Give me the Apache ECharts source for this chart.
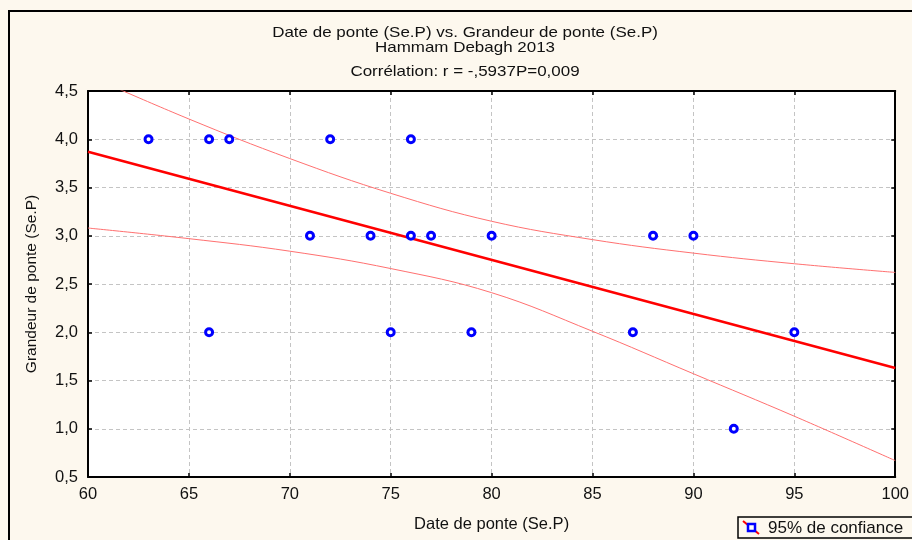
<!DOCTYPE html>
<html>
<head>
<meta charset="utf-8">
<script src="https://cdn.jsdelivr.net/npm/echarts@6/dist/echarts.min.js"></script>
<style>
  html, body { margin: 0; padding: 0; background: #fdf8ee; }
  #chart { width: 912px; height: 540px; }
</style>
</head>
<body>
<div id="chart"></div>
<script>
// Observations: laying date (x) and clutch size (y)
const dateDePonte = [63, 66, 67, 72, 76, 71, 74, 76, 77, 80, 88, 90, 66, 75, 79, 87, 95, 92];
const grandeurDePonte = [4, 4, 4, 4, 4, 3, 3, 3, 3, 3, 3, 3, 2, 2, 2, 2, 2, 1];

// Fitted regression line (end points)
const fitX = [60, 100];
const fitY = [3.87, 1.63];

// 95% confidence band
const bandX = [60, 65, 70, 75, 80, 85, 90, 95, 100];
const bandUpper = [4.66, 4.21, 3.80, 3.44, 3.15, 2.96, 2.82, 2.71, 2.62];
const bandLower = [3.08, 2.97, 2.84, 2.66, 2.41, 2.01, 1.57, 1.13, 0.67];

// Axis settings
const xTicks = { min: 60, max: 100, step: 5 };
const yTicks = { min: 0.5, max: 4.5, step: 0.5 };

const titleLines = [
  'Date de ponte (Se.P) vs. Grandeur de ponte (Se.P)',
  'Hammam Debagh 2013',
  'Corrélation: r = -,5937P=0,009'
];

const FONT = 'Liberation Sans, Arial, sans-serif';
const cream = '#fdf8ee';

const zip = (a, b) => a.map((v, i) => [v, b[i]]);
const commaFmt = v => v.toFixed(1).replace('.', ',');

const chart = echarts.init(document.getElementById('chart'), null, { renderer: 'canvas' });

const gridLine = { show: true, lineStyle: { color: '#c4c4c4', type: [4, 3], width: 1 } };
const tickIn = { show: true, inside: true, length: 4, lineStyle: { color: '#000', width: 1.5 } };
const axisLn = { show: true, lineStyle: { color: '#000', width: 2 } };

// Title text: slightly wide lettering
const titleText = (txt, y) => ({
  type: 'text', x: 465, y: y, scaleX: 1.17,
  style: { text: txt, fill: '#111', font: '14.5px ' + FONT, align: 'center', verticalAlign: 'middle' }
});

chart.setOption({
  animation: false,
  backgroundColor: cream,
  textStyle: { fontFamily: FONT },
  grid: {
    left: 88, right: 15, top: 91, bottom: 63,
    show: true, backgroundColor: '#ffffff', borderWidth: 0
  },
  xAxis: [{
    type: 'value', min: xTicks.min, max: xTicks.max, interval: xTicks.step,
    position: 'bottom',
    name: 'Date de ponte (Se.P)', nameLocation: 'middle', nameGap: 39,
    nameTextStyle: { color: '#111', fontSize: 16.5, fontFamily: FONT },
    axisLine: axisLn, axisTick: tickIn, splitLine: gridLine,
    axisLabel: { color: '#111', fontSize: 16.5, margin: 9, fontFamily: FONT }
  }, {
    type: 'value', min: xTicks.min, max: xTicks.max, interval: xTicks.step,
    position: 'top',
    axisLine: axisLn, axisTick: tickIn, splitLine: { show: false },
    axisLabel: { show: false }
  }],
  yAxis: [{
    type: 'value', min: yTicks.min, max: yTicks.max, interval: yTicks.step,
    position: 'left',
    name: 'Grandeur de ponte (Se.P)', nameLocation: 'middle', nameGap: 48,
    nameTextStyle: { color: '#111', fontSize: 15.5, fontFamily: FONT },
    axisLine: axisLn, axisTick: tickIn, splitLine: gridLine,
    axisLabel: { color: '#111', fontSize: 16.5, margin: 10, formatter: commaFmt, fontFamily: FONT }
  }, {
    type: 'value', min: yTicks.min, max: yTicks.max, interval: yTicks.step,
    position: 'right',
    axisLine: axisLn, axisTick: tickIn, splitLine: { show: false },
    axisLabel: { show: false }
  }],
  graphic: [
    {
      type: 'rect', z: -10, silent: true,
      shape: { x: 9, y: 11, width: 912, height: 540 },
      style: { fill: 'none', stroke: '#000', lineWidth: 2 }
    },
    titleText(titleLines[0], 33),
    titleText(titleLines[1], 47.5),
    titleText(titleLines[2], 72),
    // legend box
    {
      type: 'group', x: 738, y: 517,
      children: [
        { type: 'rect', shape: { x: 0, y: 0, width: 180, height: 21 },
          style: { fill: cream, stroke: '#000', lineWidth: 1.5 } },
        { type: 'line', shape: { x1: 5, y1: 4, x2: 21, y2: 17 },
          style: { stroke: '#ff0000', lineWidth: 2 } },
        { type: 'rect', shape: { x: 10, y: 7, width: 7, height: 7 },
          style: { fill: '#ffffff', stroke: '#0000ff', lineWidth: 2.5 } },
        { type: 'text', x: 30, y: 11,
          style: { text: '95% de confiance', fill: '#111', font: '17px ' + FONT, verticalAlign: 'middle' } }
      ]
    }
  ],
  series: [
    {
      type: 'line', name: 'upper', data: zip(bandX, bandUpper), smooth: 0.4,
      showSymbol: false, clip: true, z: 2,
      lineStyle: { color: '#ff7070', width: 1 }
    },
    {
      type: 'line', name: 'lower', data: zip(bandX, bandLower), smooth: 0.4,
      showSymbol: false, clip: true, z: 2,
      lineStyle: { color: '#ff7070', width: 1 }
    },
    {
      type: 'line', name: 'fit', data: zip(fitX, fitY),
      showSymbol: false, clip: true, z: 3,
      lineStyle: { color: '#ff0000', width: 2.5 }
    },
    {
      type: 'scatter', name: 'obs', data: zip(dateDePonte, grandeurDePonte),
      symbol: 'circle', symbolSize: 7, z: 4,
      itemStyle: { color: '#ffffff', borderColor: '#0000ff', borderWidth: 3, opacity: 1 }
    }
  ]
});
</script>
</body>
</html>
